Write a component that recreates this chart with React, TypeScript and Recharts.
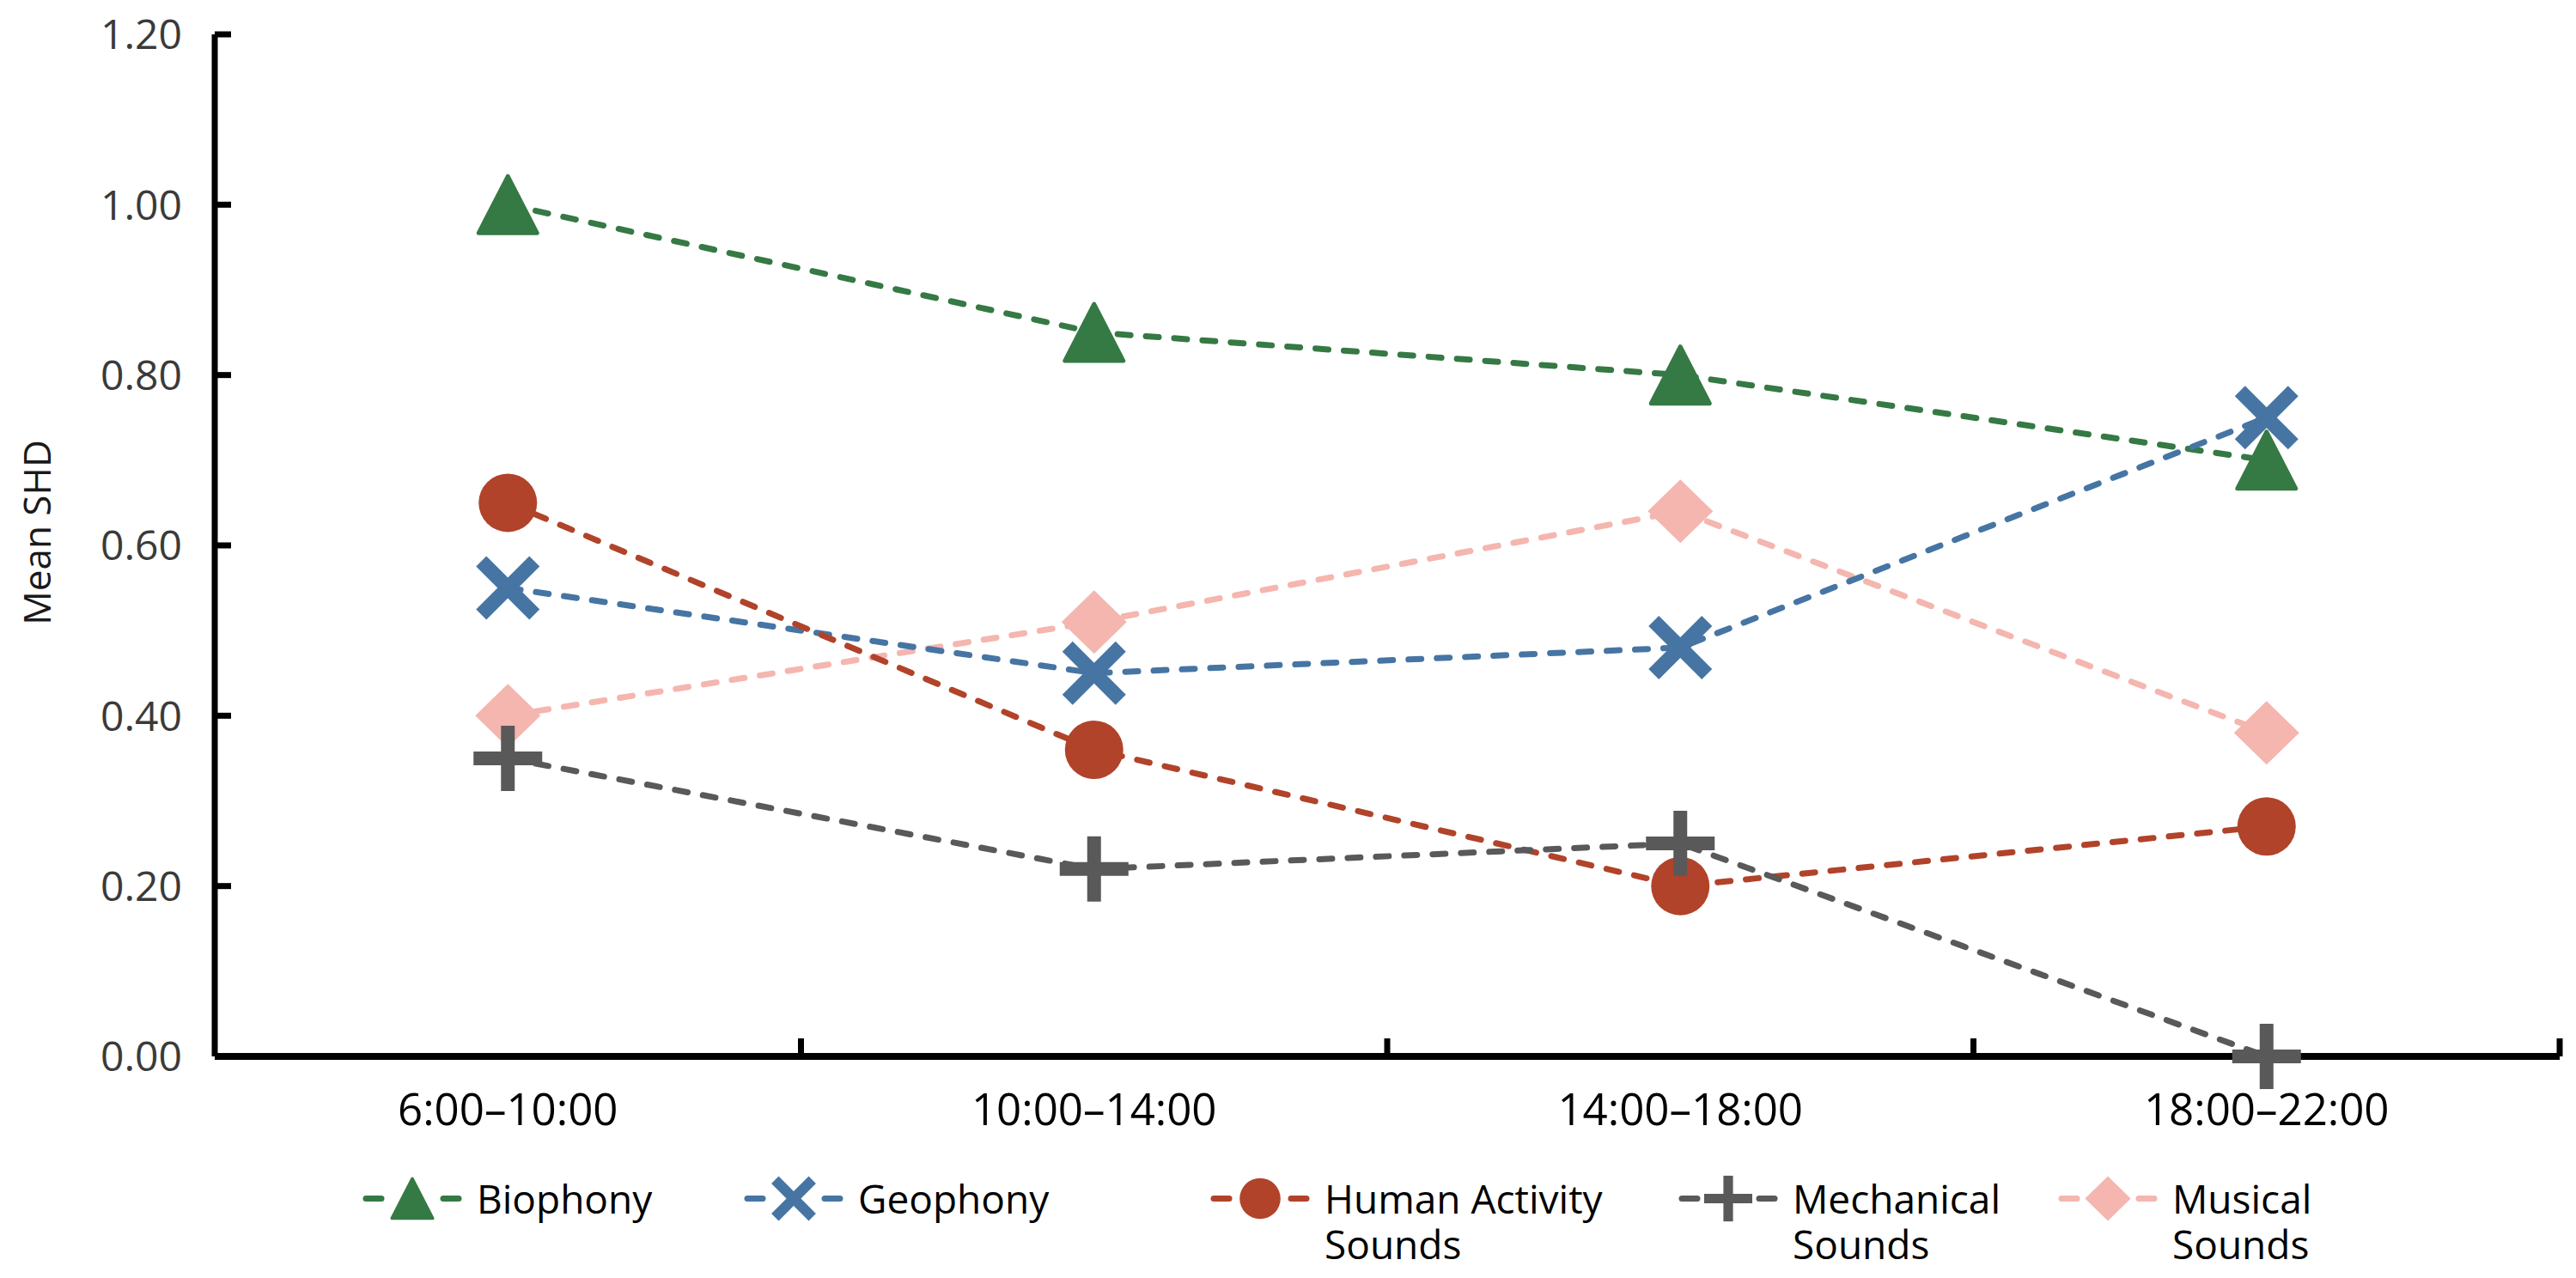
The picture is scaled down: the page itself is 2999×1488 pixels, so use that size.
import React from 'react';
import { LineChart, Line, XAxis, YAxis, Legend } from 'recharts';

// ---------- data ----------
const categories = ['6:00–10:00', '10:00–14:00', '14:00–18:00', '18:00–22:00'];
const biophony = [1.0, 0.85, 0.8, 0.7];
const geophony = [0.55, 0.45, 0.48, 0.75];
const humanActivity = [0.65, 0.36, 0.2, 0.27];
const mechanical = [0.35, 0.22, 0.25, 0.0];
const musical = [0.4, 0.51, 0.64, 0.38];
const yTicks = [0, 0.2, 0.4, 0.6, 0.8, 1.0, 1.2];
const seriesNames = ['Biophony', 'Geophony', 'Human Activity Sounds', 'Mechanical Sounds', 'Musical Sounds'];
const yAxisTitle = 'Mean SHD';

// ---------- styles ----------
const FONT = '"Open Sans", "Noto Sans", sans-serif';
const series = [
  { key: 'bio', name: seriesNames[0], values: biophony, color: '#357944', shape: 'triangle' },
  { key: 'geo', name: seriesNames[1], values: geophony, color: '#4675a3', shape: 'cross' },
  { key: 'hum', name: seriesNames[2], values: humanActivity, color: '#b1432a', shape: 'circle' },
  { key: 'mec', name: seriesNames[3], values: mechanical, color: '#595959', shape: 'plus' },
  { key: 'mus', name: seriesNames[4], values: musical, color: '#f4b6af', shape: 'diamond' },
];
// draw order (bottom to top)
const drawOrder = ['mus', 'bio', 'geo', 'hum', 'mec'];
const legendSlotWidths = [444, 543, 545, 442, 400];
const legendTextWidths = [300, 300, 345, 300, 250];
const LEGEND_LINE_H = 53;

const W = 2999;
const H = 1488;

const data = categories.map((c, i) => {
  const row: any = { idx: i, category: c };
  series.forEach((s) => {
    row[s.key] = s.values[i];
  });
  return row;
});

const xTicks: number[] = [];
categories.forEach((_, i) => {
  xTicks.push(i);
  xTicks.push(i + 0.5);
});

function MarkerShape({ shape, cx, cy, color, scale = 1 }: any) {
  const s = scale;
  switch (shape) {
    case 'triangle':
      return (
        <path
          d={`M${cx},${cy - 33 * s} L${cx + 34 * s},${cy + 33 * s} L${cx - 34 * s},${cy + 33 * s} Z`}
          fill={color}
          stroke={color}
          strokeWidth={5 * s}
          strokeLinejoin="round"
        />
      );
    case 'cross': {
      const a = 31 * s;
      return (
        <g stroke={color} strokeWidth={17 * s}>
          <line x1={cx - a} y1={cy - a} x2={cx + a} y2={cy + a} />
          <line x1={cx - a} y1={cy + a} x2={cx + a} y2={cy - a} />
        </g>
      );
    }
    case 'circle':
      return <circle cx={cx} cy={cy} r={34 * s} fill={color} />;
    case 'plus':
      return (
        <g stroke={color} strokeWidth={16 * s}>
          <line x1={cx - 40 * s} y1={cy} x2={cx + 40 * s} y2={cy} />
          <line x1={cx} y1={cy - 38 * s} x2={cx} y2={cy + 38 * s} />
        </g>
      );
    case 'diamond':
    default:
      return (
        <path
          d={`M${cx},${cy - 37 * s} L${cx + 38 * s},${cy} L${cx},${cy + 37 * s} L${cx - 38 * s},${cy} Z`}
          fill={color}
        />
      );
  }
}

const Y_TICK_MARGIN = 38;

const YTick = (props: any) => {
  const { x, y, payload } = props;
  return (
    <g>
      <text
        x={x}
        y={y}
        dy="0.36em"
        textAnchor="end"
        fontSize={48}
        fill="#3a3a3a"
        fontFamily={FONT}
      >
        {Number(payload.value).toFixed(2)}
      </text>
      <line x1={x + Y_TICK_MARGIN} x2={x + Y_TICK_MARGIN + 19} y1={y} y2={y} stroke="#000" strokeWidth={7} />
    </g>
  );
};

const XTick = (props: any) => {
  const { x, y, payload } = props;
  const v = Number(payload.value);
  if (Number.isInteger(v)) {
    return (
      <text x={x} y={y + 80} textAnchor="middle" fontSize={51} fill="#000" fontFamily={FONT}>
        {categories[v]}
      </text>
    );
  }
  return <line x1={x} x2={x} y1={y} y2={y - 21} stroke="#000" strokeWidth={7} />;
};

const renderYLabel = (p: any) => {
  const vb = p.viewBox || { x: 0, y: 40, width: 250, height: 1190 };
  const cx = vb.x + 42;
  const cy = vb.y + vb.height / 2 - 15;
  return (
    <text
      x={cx}
      y={cy}
      transform={`rotate(-90 ${cx} ${cy})`}
      textAnchor="middle"
      dominantBaseline="central"
      fontSize={44}
      fill="#1a1a1a"
      fontFamily={FONT}
    >
      {yAxisTitle}
    </text>
  );
};

const renderLegend = () => (
  <div
    style={{
      display: 'flex',
      fontFamily: FONT,
      fontSize: 46,
      lineHeight: `${LEGEND_LINE_H}px`,
      color: '#000',
      paddingLeft: 420,
    }}
  >
    {series.map((s, i) => (
      <div key={s.key} style={{ display: 'flex', alignItems: 'flex-start', width: legendSlotWidths[i], flex: 'none' }}>
        <svg width={120} height={LEGEND_LINE_H} style={{ flex: 'none', overflow: 'visible' }}>
          <line x1={6} y1={LEGEND_LINE_H / 2} x2={24} y2={LEGEND_LINE_H / 2} stroke={s.color} strokeWidth={7} strokeLinecap="round" />
          <line x1={96} y1={LEGEND_LINE_H / 2} x2={114} y2={LEGEND_LINE_H / 2} stroke={s.color} strokeWidth={7} strokeLinecap="round" />
          <MarkerShape shape={s.shape} cx={60} cy={LEGEND_LINE_H / 2} color={s.color} scale={0.7} />
        </svg>
        <div style={{ marginLeft: 15, width: legendTextWidths[i] }}>{s.name}</div>
      </div>
    ))}
  </div>
);

export default function App() {
  const ordered = drawOrder.map((k) => series.find((s) => s.key === k)!);
  return (
    <div style={{ width: W, height: H, margin: '-8px 0 0 -8px' }}>
      <LineChart
        width={W}
        height={H}
        data={data}
        margin={{ top: 40, right: 19, left: 0, bottom: 0 }}
        style={{ fontFamily: FONT }}
      >
        <XAxis
          dataKey="idx"
          type="number"
          domain={[-0.5, categories.length - 0.5]}
          ticks={xTicks}
          interval={0}
          allowDecimals
          height={258}
          tickSize={0}
          tickMargin={0}
          tickLine={false}
          axisLine={{ stroke: '#000', strokeWidth: 8 }}
          tick={<XTick />}
        />
        <YAxis
          type="number"
          domain={[0, 1.2]}
          ticks={yTicks}
          interval={0}
          width={250}
          tickSize={0}
          tickMargin={Y_TICK_MARGIN}
          tickLine={false}
          axisLine={{ stroke: '#000', strokeWidth: 7 }}
          tick={<YTick />}
          label={{ content: renderYLabel }}
        />
        <Legend
          layout="horizontal"
          verticalAlign="middle"
          align="center"
          content={renderLegend}
          wrapperStyle={{ position: 'absolute', left: 0, top: 1369, width: W, height: 115 }}
        />
        {ordered.map((s) => (
          <Line
            key={s.key}
            dataKey={s.key}
            name={s.name}
            stroke={s.color}
            strokeWidth={7}
            strokeDasharray="15 18"
            strokeLinecap="round"
            type="linear"
            isAnimationActive={false}
            activeDot={false}
            dot={(p: any) => (
              <MarkerShape key={`${s.key}-${p.index}`} shape={s.shape} cx={p.cx} cy={p.cy} color={s.color} />
            )}
          />
        ))}
      </LineChart>
    </div>
  );
}
